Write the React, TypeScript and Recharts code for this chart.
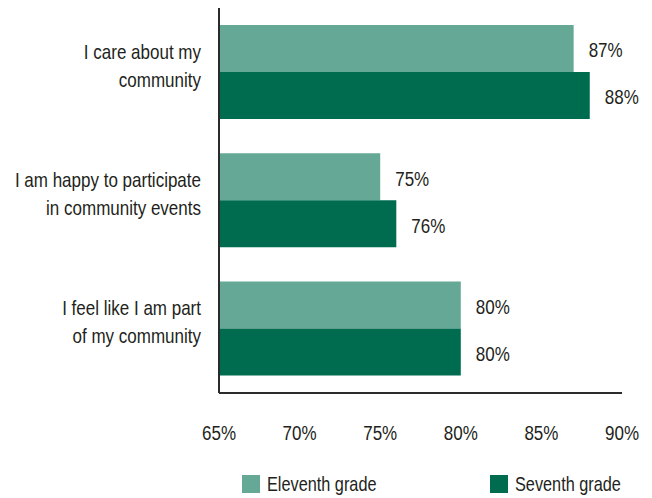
import React from 'react';
import { BarChart, Bar, XAxis, YAxis, LabelList, Legend } from 'recharts';

const categories = [
  'I care about my\ncommunity',
  'I am happy to participate\nin community events',
  'I feel like I am part\nof my community',
];
const eleventhGrade = [87, 75, 80];
const seventhGrade = [88, 76, 80];
const xTicks = [65, 70, 75, 80, 85, 90];
const seriesNames = ['Eleventh grade', 'Seventh grade'];
const seriesColors = ['#66a896', '#006c4f'];

const FONT = '"Liberation Sans", Arial, sans-serif';
const FS = 21;
const SX = 0.81;
const TEXT = '#231f20';

const data = categories.map((c, i) => ({
  category: c,
  eleventh: eleventhGrade[i],
  seventh: seventhGrade[i],
}));

const NarrowText = ({ x, y, anchor, children }: any) => (
  <g transform={`translate(${x},${y}) scale(${SX},1)`}>
    <text x={0} y={0} textAnchor={anchor} fill={TEXT} fontFamily={FONT} fontSize={FS}>
      {children}
    </text>
  </g>
);

const YTick = (props: any) => {
  const { x, y, payload } = props;
  const lines = String(payload.value).split('\n');
  return (
    <g>
      <NarrowText x={x - 18} y={y - 13.5} anchor="end">{lines[0]}</NarrowText>
      {lines[1] && <NarrowText x={x - 18} y={y + 14.5} anchor="end">{lines[1]}</NarrowText>}
    </g>
  );
};

const XTick = (props: any) => {
  const { x, y, payload } = props;
  return <NarrowText x={x} y={y + 47} anchor="middle">{payload.value}%</NarrowText>;
};

const ValueLabel = (props: any) => {
  const { x, y, width, height, value } = props;
  return <NarrowText x={x + width + 15} y={y + height / 2 + 9} anchor="start">{value}%</NarrowText>;
};

const LegendContent = () => (
  <div style={{ height: 45, position: 'relative', fontFamily: FONT, fontSize: FS, color: TEXT }}>
    {seriesNames.map((n, i) => (
      <div
        key={n}
        style={{
          position: 'absolute',
          left: i === 0 ? 242 : 490,
          top: 22,
          display: 'flex',
          alignItems: 'center',
          height: 18,
          whiteSpace: 'nowrap',
        }}
      >
        <span style={{ display: 'inline-block', width: 18, height: 18, background: seriesColors[i], marginRight: 7 }} />
        <span style={{ display: 'inline-block', transform: 'scaleX(0.775)', transformOrigin: 'left center', lineHeight: '18px' }}>{n}</span>
      </div>
    ))}
  </div>
);

export default function App() {
  return (
    <div style={{ position: 'absolute', left: 0, top: 0, width: 652, height: 498, background: '#fff' }}>
      <BarChart
        width={652}
        height={498}
        data={data}
        layout="vertical"
        margin={{ top: 8, right: 30, bottom: 0, left: 0 }}
        barCategoryGap="13.2%"
        barGap={0}
      >
        <XAxis
          type="number"
          domain={[65, 90]}
          ticks={xTicks}
          allowDataOverflow
          axisLine={{ stroke: '#2b2b2b', strokeWidth: 2 }}
          tickLine={false}
          tickSize={0}
          tickMargin={0}
          tick={<XTick />}
          height={60}
        />
        <YAxis
          type="category"
          dataKey="category"
          width={219}
          axisLine={{ stroke: '#2b2b2b', strokeWidth: 2 }}
          tickLine={false}
          tickSize={0}
          tickMargin={0}
          tick={<YTick />}
          interval={0}
        />
        <Legend verticalAlign="bottom" content={<LegendContent />} wrapperStyle={{ left: 0, width: 652 }} />
        <Bar dataKey="eleventh" name={seriesNames[0]} fill={seriesColors[0]} isAnimationActive={false}>
          <LabelList dataKey="eleventh" content={<ValueLabel />} />
        </Bar>
        <Bar dataKey="seventh" name={seriesNames[1]} fill={seriesColors[1]} isAnimationActive={false}>
          <LabelList dataKey="seventh" content={<ValueLabel />} />
        </Bar>
      </BarChart>
    </div>
  );
}
